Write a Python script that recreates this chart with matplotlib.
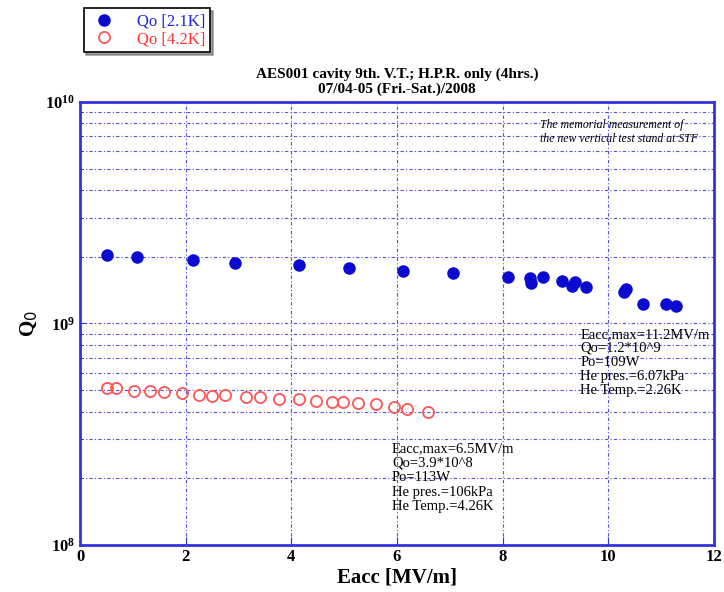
import numpy as np
import matplotlib
matplotlib.use('Agg')
import matplotlib.pyplot as plt
from matplotlib.ticker import LogLocator, FixedLocator, NullFormatter

# dati: Eacc [MV/m] e Qo
eacc_21k = [0.51, 1.08, 2.14, 2.93, 4.15, 5.09, 6.11, 7.06, 8.10, 8.52, 8.54,
            8.76, 9.12, 9.31, 9.37, 9.58, 10.30, 10.33, 10.66, 11.09, 11.28]
qo_21k = [2.04e9, 2.00e9, 1.94e9, 1.88e9, 1.84e9, 1.78e9, 1.73e9, 1.69e9, 1.62e9,
          1.60e9, 1.52e9, 1.62e9, 1.56e9, 1.48e9, 1.54e9, 1.46e9, 1.39e9, 1.43e9,
          1.22e9, 1.22e9, 1.20e9]

eacc_42k = [0.51, 0.68, 1.02, 1.33, 1.59, 1.93, 2.25, 2.50, 2.74, 3.14, 3.41,
            3.77, 4.15, 4.47, 4.77, 4.98, 5.26, 5.60, 5.94, 6.19, 6.59]
qo_42k = [5.12e8, 5.12e8, 4.96e8, 4.96e8, 4.91e8, 4.86e8, 4.76e8, 4.71e8, 4.76e8,
          4.66e8, 4.66e8, 4.56e8, 4.56e8, 4.47e8, 4.42e8, 4.42e8, 4.38e8, 4.33e8,
          4.20e8, 4.11e8, 3.98e8]

x_ticks = [0, 2, 4, 6, 8, 10, 12]
title_lines = ['AES001 cavity 9th. V.T.; H.P.R. only (4hrs.)',
               '07/04-05 (Fri.-Sat.)/2008']
note_21k = ['Eacc,max=11.2MV/m', 'Qo=1.2*10^9', 'Po=109W',
            'He pres.=6.07kPa', 'He Temp.=2.26K']
note_42k = ['Eacc,max=6.5MV/m', 'Qo=3.9*10^8', 'Po=113W',
            'He pres.=106kPa', 'He Temp.=4.26K']

serif = ['Liberation Serif', 'DejaVu Serif']
plt.rcParams['font.family'] = serif
blu = '#3333dd'

fig = plt.figure(figsize=(7.24, 5.92), dpi=100)
ax = fig.add_axes([0.1105, 0.0794, 0.8757, 0.7483])

ax.set_yscale('log')
ax.set_xlim(0, 12)
ax.set_ylim(1e8, 1e10)

# griglia tratteggiata blu
gstyle = dict(color=blu, lw=0.8, ls=(0, (3, 2, 1, 2)), alpha=0.85)
for m in [1e8, 1e9]:
    for k in range(2, 10):
        ax.axhline(m * k, **gstyle, zorder=0)
ax.axhline(1e9, **gstyle, zorder=0)
for xv in x_ticks[1:-1]:
    ax.axvline(xv, **gstyle, zorder=0)

ax.plot(eacc_21k, qo_21k, 'o', color='#0a0ad0', ms=8, label='Qo [2.1K]',
        zorder=3)
ax.plot(eacc_42k, qo_42k, 'o', mfc='none', mec='#ff5555', mew=1.3, ms=8,
        label='Qo [4.2K]', zorder=3)

for s in ax.spines.values():
    s.set_color(blu)
    s.set_linewidth(2)

ax.xaxis.set_major_locator(FixedLocator(x_ticks))
ax.yaxis.set_major_locator(LogLocator(base=10, numticks=5))
ax.yaxis.set_minor_locator(LogLocator(base=10, subs=np.arange(2, 10), numticks=12))
ax.yaxis.set_minor_formatter(NullFormatter())
ax.tick_params(axis='both', which='both', direction='in', color=blu)
ax.tick_params(axis='x', which='major', length=6, pad=3)
ax.tick_params(axis='y', which='major', length=4)
ax.tick_params(axis='y', which='minor', length=2)
for lab in ax.get_xticklabels() + ax.get_yticklabels():
    lab.set_fontweight('bold')
    lab.set_fontsize(12)

ax.set_xlabel('Eacc [MV/m]', fontsize=15, fontweight='bold', labelpad=2)
ax.set_ylabel('Q$_0$', fontsize=15, fontweight='bold', labelpad=4)

fig.text(0.548, 0.862, title_lines[0] + '\n' + title_lines[1], ha='center',
         va='center', fontsize=11, fontweight='bold', linespacing=1.1)

ax.text(0.725, 0.962, 'The memorial measurement of\nthe new vertical test stand at STF',
        transform=ax.transAxes, ha='left', va='top', fontsize=8.5,
        style='italic', linespacing=1.2)
ax.text(0.789, 0.49, '\n'.join(note_21k), transform=ax.transAxes,
        ha='left', va='top', fontsize=10.5, linespacing=1.1)
ax.text(0.492, 0.232, '\n'.join(note_42k), transform=ax.transAxes,
        ha='left', va='top', fontsize=10.5, linespacing=1.15)

leg = fig.legend(loc='upper left', bbox_to_anchor=(0.104, 1.0),
                 fontsize=12, frameon=True, shadow=True, fancybox=False,
                 handletextpad=1.1, borderpad=0.3, labelspacing=0.1,
                 handlelength=1.8)
leg.get_frame().set_edgecolor('black')
leg.get_frame().set_linewidth(1.2)
leg.get_texts()[0].set_color('#2222dd')
leg.get_texts()[1].set_color('#ff3333')

fig.savefig('out.png', dpi=100)
